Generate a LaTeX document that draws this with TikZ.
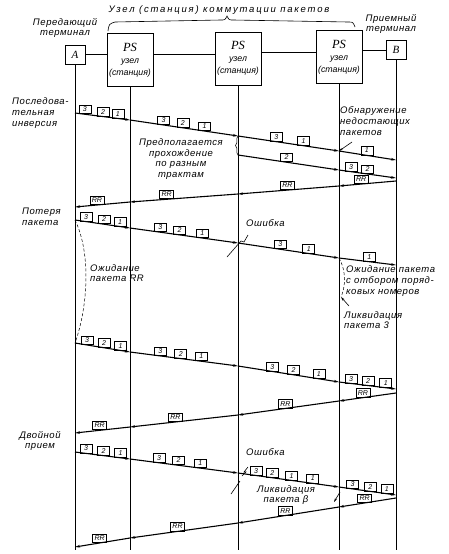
\documentclass[tikz,border=0pt]{standalone}
\usepackage{fontspec}
\setmainfont{Liberation Sans}
\newfontfamily\lblfont{Liberation Sans}[LetterSpace=6]
\newfontfamily\widefont{Liberation Sans}[LetterSpace=19]
\newfontfamily\psfont{Liberation Serif}
\usetikzlibrary{arrows.meta,positioning,decorations.pathreplacing}
\newcommand\laneA{75}
\newcommand\laneP{130}
\newcommand\laneQ{238}
\newcommand\laneR{339}
\newcommand\laneB{396}
\tikzset{
  termbox/.style={
    rectangle, draw, line width=0.8pt, minimum width=20pt, minimum height=19pt,
    inner sep=0pt, font=\psfont\fontsize{11}{11}\selectfont\itshape
  },
  psbox/.style={
    rectangle, draw, line width=0.8pt, minimum width=46pt, minimum height=53pt,
    inner sep=1pt, align=center, font=\fontsize{8.8}{12}\selectfont\itshape
  },
  link/.style={line width=0.9pt},
  lane/.style={line width=0.7pt},
  hop/.style={line width=1.1pt, -{Stealth[length=5pt,width=2.6pt]}},
  pkt/.style={
    rectangle, draw, line width=0.55pt, minimum width=12pt, minimum height=8.5pt,
    inner sep=0.5pt, anchor=south, yshift=0.3pt,
    font=\fontsize{7}{7}\selectfont\itshape
  },
  rrpkt/.style={pkt, minimum width=14pt},
  note/.style={font=\lblfont\fontsize{9.5}{10.8}\selectfont\itshape, inner sep=0pt},
  wait/.style={line width=0.5pt, dash pattern=on 3pt off 2pt},
  ptr/.style={line width=0.6pt, -{Stealth[length=4pt,width=2.2pt]}},
  fault/.style={line width=0.6pt},
}
\begin{document}
\begin{tikzpicture}[x=1pt,y=-1pt]
  \useasboundingbox (0,0) rectangle (448,554);

  % terminals and switching nodes
  \node[termbox] (A) at (\laneA,54.5) {A};
  \node[psbox] (ps1) at (\laneP,60) {{\psfont\fontsize{12.5}{12.5}\selectfont PS}\\узел\\(станция)};
  \node[psbox] (ps2) at (\laneQ,58.5) {{\psfont\fontsize{12.5}{12.5}\selectfont PS}\\узел\\(станция)};
  \node[psbox] (ps3) at (\laneR,57) {{\psfont\fontsize{12.5}{12.5}\selectfont PS}\\узел\\(станция)};
  \node[termbox] (B) at (\laneB,50) {B};
  \draw[link] (A.east) -- (A.east -| ps1.west);
  \draw[link] (A.east -| ps1.east) -- (A.east -| ps2.west);
  \draw[link] (ps2.east |- 0,52) -- (ps3.west |- 0,52);
  \draw[link] (ps3.east |- B.west) -- (B.west);

  \node[note, font=\widefont\fontsize{9.5}{10.8}\selectfont\itshape] (net) at (219,10) {Узел (станция) коммутации пакетов};
  \draw[line width=0.6pt] (108,31) .. controls (109,24) .. (115,22) -- (221,20)
    .. controls (225,20) .. (227,16) .. controls (229,20) .. (233,20) -- (348,22)
    .. controls (353,22) .. (355,27);
  \node[note, align=center] (snd) at (65,28) {Передающий\\терминал};
  \node[note, align=center] (rcv) at (391,24) {Приемный\\терминал};

  % time axes
  \coordinate (bot) at (0,550);
  \foreach \n in {A,ps1,ps2,ps3,B}
    \draw[lane] (\n.south) -- (\n.south |- bot);

  % crossing points on the axes
  \foreach \r/\ya/\yp/\yq/\yr/\yb in {f1/113/120/136/151/160, r1/207/202/194/186/181,
      f2/220/228/243/258/265, f3/343/352/366/382/389, r3/433/427/415/401/393,
      f4/452/459/473/487/495, r4/547/538/523/507/498} {
    \coordinate (\r-a) at (\laneA,\ya);
    \coordinate (\r-1) at (\laneP,\yp);
    \coordinate (\r-2) at (\laneQ,\yq);
    \coordinate (\r-3) at (\laneR,\yr);
    \coordinate (\r-b) at (\laneB,\yb);
  }
  \coordinate (g1-2) at (\laneQ,155);
  \coordinate (g1-3) at (\laneR,170);
  \coordinate (g1-b) at (\laneB,178);

  % Последовательная инверсия
  \node[note, align=left, anchor=west] (inv) at (12,113) {Последова-\\тельная\\инверсия};
  \draw[hop] (f1-a) -- (f1-1) node[pkt,pos=.18] (f1a3) {3} node[pkt,pos=.51] (f1a2) {2} node[pkt,pos=.78] (f1a1) {1};
  \draw[hop] (f1-1) -- (f1-2) node[pkt,pos=.31] (f1p3) {3} node[pkt,pos=.49] (f1p2) {2} node[pkt,pos=.69] (f1p1) {1};
  \draw[hop] (f1-2) -- (f1-3) node[pkt,pos=.38] (f1q3) {3} node[pkt,pos=.65] (f1q1) {1};
  \draw[hop] (f1-3) -- (f1-b) node[pkt,pos=.49] (f1r1) {1};
  \draw[hop] (g1-2) -- (g1-3) node[pkt,pos=.48] (g1q2) {2};
  \draw[hop] (g1-3) -- (g1-b) node[pkt,pos=.21] (g1r3) {3} node[pkt,pos=.5] (g1r2) {2};
  \draw[line width=0.5pt, decorate, decoration={brace, amplitude=2.5pt}] (g1-2) -- (f1-2);
  \node[note, align=center] (split) at (181,159) {Предполагается\\прохождение\\по разным\\трактам};
  \node[note, align=left, anchor=west] (obn) at (340,121) {Обнаружение\\недостающих\\пакетов};
  \coordinate (k0) at (352,142);
  \draw[ptr] (k0) -- (f1-3);
  \draw[hop] (r1-b) -- (r1-3) node[rrpkt,pos=.61] (r1b) {RR};
  \draw[hop] (r1-3) -- (r1-2) node[rrpkt,pos=.51] (r1r) {RR};
  \draw[hop] (r1-2) -- (r1-1) node[rrpkt,pos=.66] (r1q) {RR};
  \draw[hop] (r1-1) -- (r1-a) node[rrpkt,pos=.6] (r1p) {RR};

  % Потеря пакета
  \node[note, align=left, anchor=west] (loss) at (22,217) {Потеря\\пакета};
  \draw[hop] (f2-a) -- (f2-1) node[pkt,pos=.2] (f2a3) {3} node[pkt,pos=.53] (f2a2) {2} node[pkt,pos=.82] (f2a1) {1};
  \draw[hop] (f2-1) -- (f2-2) node[pkt,pos=.28] (f2p3) {3} node[pkt,pos=.46] (f2p2) {2} node[pkt,pos=.67] (f2p1) {1};
  \draw[hop] (f2-2) -- (f2-3) node[pkt,pos=.42] (f2q3) {3} node[pkt,pos=.7] (f2q1) {1};
  \draw[hop] (f2-3) -- (f2-b) node[pkt,pos=.53] (f2r1) {1};
  \draw[fault] ([shift={(-11,14)}]f2-2) -- ([shift={(3,-2)}]f2-2) -- ([shift={(6,-1)}]f2-2) -- ([shift={(10,-8)}]f2-2);
  \node[note, anchor=west] (err1) at (246,223) {Ошибка};
  \draw[wait] (f2-a) .. controls (92,255) and (87,310) .. (f3-a);
  \node[note, align=left, anchor=west] (wrr) at (90,273) {Ожидание\\пакета RR};
  \coordinate (w2) at (341,297);
  \draw[wait] (f2-3) .. controls (347,272) and (345,288) .. (w2);
  \node[note, align=left, anchor=west] (wseq) at (346,281) {Ожидание пакета\\с отбором поряд-\\ковых номеров};
  \coordinate (k1) at (349,306);
  \draw[ptr] (k1) -- (w2);
  \node[note, align=left, anchor=west] (del3) at (344,320) {Ликвидация\\пакета 3};
  \draw[hop] (f3-a) -- (f3-1) node[pkt,pos=.22] (f3a3) {3} node[pkt,pos=.53] (f3a2) {2} node[pkt,pos=.83] (f3a1) {1};
  \draw[hop] (f3-1) -- (f3-2) node[pkt,pos=.28] (f3p3) {3} node[pkt,pos=.47] (f3p2) {2} node[pkt,pos=.66] (f3p1) {1};
  \draw[hop] (f3-2) -- (f3-3) node[pkt,pos=.34] (f3q3) {3} node[pkt,pos=.55] (f3q2) {2} node[pkt,pos=.8] (f3q1) {1};
  \draw[hop] (f3-3) -- (f3-b) node[pkt,pos=.21] (f3r3) {3} node[pkt,pos=.51] (f3r2) {2} node[pkt,pos=.82] (f3r1) {1};
  \draw[hop] (r3-b) -- (r3-3) node[rrpkt,pos=.58] (r3b) {RR};
  \draw[hop] (r3-3) -- (r3-2) node[rrpkt,pos=.53] (r3r) {RR};
  \draw[hop] (r3-2) -- (r3-1) node[rrpkt,pos=.58] (r3q) {RR};
  \draw[hop] (r3-1) -- (r3-a) node[rrpkt,pos=.55] (r3p) {RR};

  % Двойной прием
  \node[note, align=center] (dup) at (40,441) {Двойной\\прием};
  \draw[hop] (f4-a) -- (f4-1) node[pkt,pos=.2] (f4a3) {3} node[pkt,pos=.52] (f4a2) {2} node[pkt,pos=.83] (f4a1) {1};
  \draw[hop] (f4-1) -- (f4-2) node[pkt,pos=.27] (f4p3) {3} node[pkt,pos=.45] (f4p2) {2} node[pkt,pos=.65] (f4p1) {1};
  \draw[hop] (f4-2) -- (f4-3) node[pkt,pos=.18] (f4q3) {3} node[pkt,pos=.34] (f4q2) {2} node[pkt,pos=.53] (f4q1) {1} node[pkt,pos=.74] (f4q1b) {1};
  \draw[hop] (f4-3) -- (f4-b) node[pkt,pos=.24] (f4r3) {3} node[pkt,pos=.55] (f4r2) {2} node[pkt,pos=.84] (f4r1) {1};
  \draw[fault] ([shift={(-7,21)}]f4-2) -- ([shift={(2,8)}]f4-2);
  \draw[fault] ([shift={(4,3)}]f4-2) -- ([shift={(8,-1)}]f4-2) -- ([shift={(6,-1)}]f4-2) -- ([shift={(10,-6)}]f4-2);
  \node[note, anchor=west] (err2) at (246,452) {Ошибка};
  \node[note, align=center] (delb) at (286,495) {Ликвидация\\пакета β};
  \draw[ptr] ([shift={(1,5)}]f4-3) -- ([shift={(-5,15)}]f4-3);
  \draw[hop] (r4-b) -- (r4-3) node[rrpkt,pos=.55] (r4b) {RR};
  \draw[hop] (r4-3) -- (r4-2) node[rrpkt,pos=.53] (r4r) {RR};
  \draw[hop] (r4-2) -- (r4-1) node[rrpkt,pos=.56] (r4q) {RR};
  \draw[hop] (r4-1) -- (r4-a) node[rrpkt,pos=.55] (r4p) {RR};
\end{tikzpicture}
\end{document}
